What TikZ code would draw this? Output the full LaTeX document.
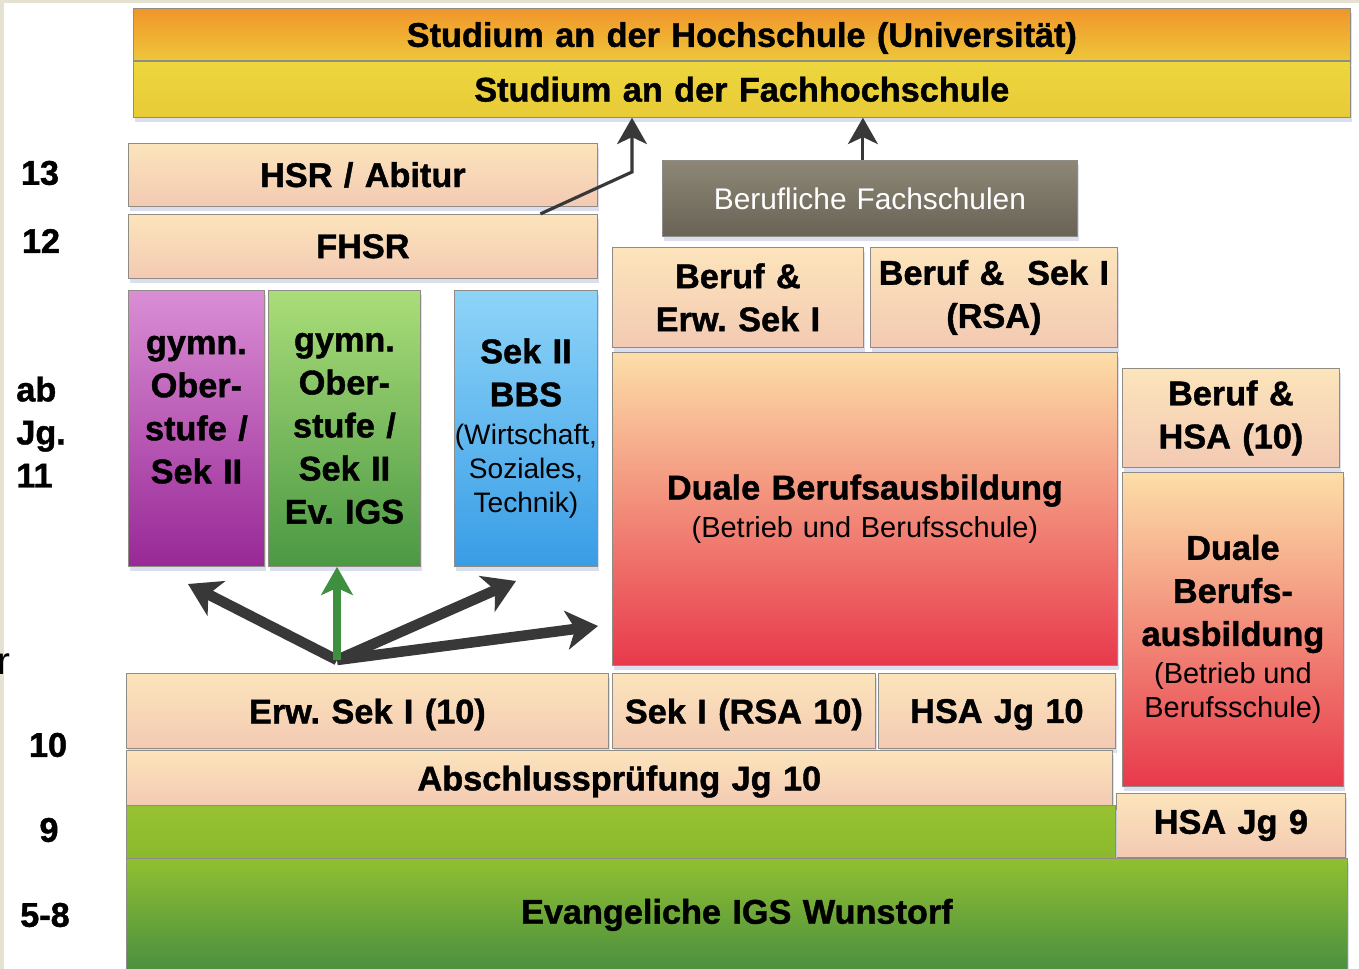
\documentclass[tikz,border=0pt]{standalone}
\usepackage{fontspec}
\setmainfont{Liberation Sans}[BoldFeatures={FakeBold=1.2}]
\usetikzlibrary{arrows.meta,calc,shadows,positioning}

\definecolor{rahmen}{HTML}{8E8C84}
\definecolor{schatten}{HTML}{D3D6E8}
\definecolor{beige}{HTML}{E6E2D1}
\definecolor{uniO}{HTML}{F1952A}
\definecolor{uniU}{HTML}{EEC63A}
\definecolor{fhO}{HTML}{EDD63E}
\definecolor{fhU}{HTML}{E8CB37}
\definecolor{pfirsichO}{HTML}{FCE4BB}
\definecolor{pfirsichU}{HTML}{F3CAB3}
\definecolor{grauO}{HTML}{8E8777}
\definecolor{grauU}{HTML}{686355}
\definecolor{lilaO}{HTML}{DA8ED5}
\definecolor{lilaU}{HTML}{982896}
\definecolor{gruenO}{HTML}{AADD79}
\definecolor{gruenU}{HTML}{4B9844}
\definecolor{blauO}{HTML}{8ED4F8}
\definecolor{blauU}{HTML}{389DE6}
\definecolor{dualO}{HTML}{FCDEA8}
\definecolor{dualU}{HTML}{E8394B}
\definecolor{jgO}{HTML}{96C232}
\definecolor{jgU}{HTML}{8BB82E}
\definecolor{igsO}{HTML}{90C031}
\definecolor{igsU}{HTML}{4A8E40}
\definecolor{pfeilgrau}{HTML}{383838}
\definecolor{pfeilgruen}{HTML}{3E903E}

\newcommand{\fett}{\fontsize{19.5}{24.5}\selectfont\bfseries}
\newcommand{\duenn}{\fontsize{16.5}{19.5}\selectfont\mdseries\spaceskip=0.22em plus 0.1em minus 0.05em\relax}
\frenchspacing

\begin{document}
\begin{tikzpicture}[x=0.02cm, y=-0.02cm,
  feld/.style={draw=rahmen, line width=0.5pt, anchor=north west, inner sep=0pt,
    align=center, font=\fett,
    drop shadow={shadow xshift=1pt, shadow yshift=-2.5pt, fill=schatten, opacity=0.8}},
  groesse/.style 2 args={text width=#1, minimum height=#2},
  pfirsich/.style={feld, top color=pfirsichO, bottom color=pfirsichU},
  jahr/.style={font=\fett, inner sep=0pt},
  duennpfeil/.style={draw=pfeilgrau, line width=1.8pt,
    -{Stealth[length=15pt,width=17pt,inset=4pt]}},
  dickpfeil/.style={draw=pfeilgrau, line width=6pt, line join=round,
    -{Stealth[length=18pt,width=22pt,inset=5pt]}},
  gruenpfeil/.style={draw=pfeilgruen, line width=4.5pt,
    -{Stealth[length=16pt,width=18pt,inset=4pt]}},
]
\useasboundingbox (0,0) rectangle (1359,969);
\fill[white] (0,0) rectangle (1359,969);
\fill[beige] (0,0) rectangle (4,969);
\fill[beige] (0,0) rectangle (1359,3);

% Hochschulen
\node[feld, top color=uniO, bottom color=uniU, groesse={24.34cm}{1.04cm}, text depth=0pt] (uni) at (133,8)
  {Studium an der Hochschule (Universität)};
\node[feld, top color=fhO, bottom color=fhU, groesse={24.34cm}{1.12cm}, below=0pt of uni] (fh)
  {Studium an der Fachhochschule};

% Sek II
\node[pfirsich, groesse={9.38cm}{1.26cm}] (hsr) at (128,143) {HSR / Abitur};
\node[pfirsich, groesse={9.38cm}{1.28cm}, below=0.14cm of hsr] (fhsr) {FHSR};
\node[feld, top color=grauO, bottom color=grauU, groesse={8.30cm}{1.52cm},
  font=\fontsize{17}{20}\selectfont, text=white] (bfs) at (662,160) {Berufliche Fachschulen};
\node[pfirsich, groesse={5.02cm}{2.00cm}] (berufErw) at (612,247) {Beruf \&\\Erw. Sek I};
\node[pfirsich, groesse={4.94cm}{2.00cm}] (berufSek) at (870,247) {Beruf \&\ \ Sek I\\(RSA)};
\node[feld, top color=lilaO, bottom color=lilaU, groesse={2.72cm}{5.52cm}] (gymA) at (128,290)
  {gymn.\\Ober-\\stufe /\\Sek II\\[-3pt]\mbox{}};
\node[feld, top color=gruenO, bottom color=gruenU, groesse={3.04cm}{5.52cm}] (gymB) at (268,290)
  {gymn.\\Ober-\\stufe /\\Sek II\\Ev. IGS};
\node[feld, top color=blauO, bottom color=blauU, groesse={2.86cm}{5.52cm}] (bbs) at (454,290)
  {Sek II\\BBS\\[2pt]\fontsize{16}{19.5}\selectfont\mdseries (Wirtschaft,\\Soziales,\\Technik)\par};
\node[feld, top color=dualO, bottom color=dualU, groesse={10.10cm}{6.26cm}] (duale) at (612,352)
  {Duale Berufsausbildung\\[2pt]\duenn (Betrieb und Berufsschule)\par};
\node[pfirsich, groesse={4.34cm}{1.98cm}] (berufHsa) at (1122,368) {Beruf \&\\HSA (10)};
\node[feld, top color=dualO, bottom color=dualU, groesse={4.42cm}{6.28cm}] (dualeR) at (1122,472)
  {Duale\\Berufs-\\ausbildung\\[2pt]\duenn (Betrieb und\\Berufsschule)\par};

% Sek I
\node[pfirsich, groesse={9.64cm}{1.50cm}, text depth=0pt] (erw) at (126,673) {Erw. Sek I (10)};
\node[pfirsich, groesse={5.26cm}{1.50cm}, text depth=0pt] (rsa) at (612,673) {Sek I (RSA 10)};
\node[pfirsich, groesse={4.74cm}{1.50cm}, text depth=0pt] (hsa10) at (878,673) {HSA Jg 10};
\node[pfirsich, groesse={19.72cm}{1.10cm}, text depth=0pt] (abschl) at (126,750) {Abschlussprüfung Jg 10};
\node[pfirsich, groesse={4.58cm}{1.28cm}] (hsa9) at (1116,793) {HSA Jg 9};
\node[feld, top color=jgO, bottom color=jgU, groesse={19.78cm}{1.06cm}] (jg9) at (126,805) {};
\node[feld, top color=igsO, bottom color=igsU, groesse={24.42cm}{2.26cm}] (igs) at (126,858)
  {Evangeliche IGS Wunstorf};

% Jahrgaenge
\node[jahr] (j13) at (40,173) {13};
\node[jahr] (j12) at (41,241) {12};
\node[jahr, align=left, anchor=west] (j11) at (16,432) {ab\\Jg.\\11};
\node[jahr] (j10) at (48,745) {10};
\node[jahr] (j9) at (49,830) {9};
\node[jahr] (j58) at (45,915) {5-8};
\node[font=\fontsize{22}{26}\selectfont, inner sep=0pt, anchor=west] (rest) at (-3,664) {r};

% Pfeile
\coordinate (knick) at (632,172);
\draw[duennpfeil] ($(fhsr.north west)!0.878!(fhsr.north east)$) -- (knick) -- (knick |- fh.south);
\coordinate (bfsOben) at ($(bfs.north)+(-7,0)$);
\draw[duennpfeil] (bfsOben) -- (bfsOben |- fh.south);

\coordinate (gabel) at (337,660);
\coordinate (zielA) at (188,584);
\coordinate (zielB) at (516,581);
\coordinate (zielC) at (598,626);
\draw[dickpfeil] (gabel) -- (zielA);
\draw[dickpfeil] (gabel) -- (zielB);
\draw[dickpfeil] (gabel) -- (zielC);
\draw[gruenpfeil] (gabel) -- (gabel |- gymB.south);
\end{tikzpicture}
\end{document}
